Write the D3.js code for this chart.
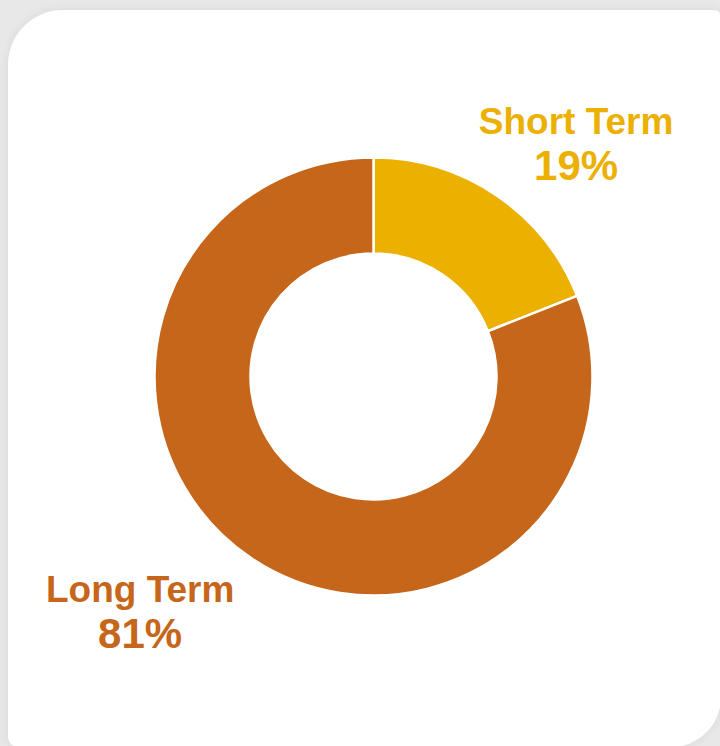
<!DOCTYPE html>
<html>
<head>
<meta charset="utf-8">
<script src="https://cdn.jsdelivr.net/npm/d3@7"></script>
<style>
  html, body { margin: 0; padding: 0; background: #e8e8e8; }
  svg { display: block; }
</style>
</head>
<body>
<div id="chart"></div>
<script>
// data
const categories = ["Short Term", "Long Term"]
const shares = [19, 81]
const colors = ["#ECB000", "#C6661A"]

const width = 720
const height = 746
const cx = 373.5
const cy = 376.5
const outerR = 219
const innerR = 123

const svg = d3.select("#chart").append("svg")
    .attr("width", width)
    .attr("height", height)

const defs = svg.append("defs")
const shadow = defs.append("filter").attr("id", "shadow")
    .attr("x", "-10%").attr("y", "-10%").attr("width", "120%").attr("height", "120%")
shadow.append("feDropShadow")
    .attr("dx", 0).attr("dy", 0)
    .attr("stdDeviation", 4)
    .attr("flood-color", "#000")
    .attr("flood-opacity", 0.08)

svg.append("rect")
    .attr("width", width).attr("height", height)
    .attr("fill", "#e8e8e8")

// card with uneven corners (cropped screenshot)
const card = d3.path()
const L = 8, T = 10, R = 721, B = 747
card.moveTo(L + 55, T)
card.lineTo(R - 8, T)
card.quadraticCurveTo(R, T, R, T + 8)
card.lineTo(R, B - 50)
card.arcTo(R, B, R - 50, B, 50)
card.lineTo(L + 12, B)
card.quadraticCurveTo(L, B, L, B - 12)
card.lineTo(L, T + 55)
card.arcTo(L, T, L + 55, T, 55)
card.closePath()

svg.append("path")
    .attr("d", card.toString())
    .attr("fill", "#fff")
    .attr("filter", "url(#shadow)")

const data = categories.map((c, i) => ({ name: c, value: shares[i], color: colors[i] }))

const pie = d3.pie().value(d => d.value).sort(null)
const arcs = pie(data)

const arc = d3.arc().innerRadius(innerR).outerRadius(outerR)

const g = svg.append("g").attr("transform", `translate(${cx},${cy})`)

g.selectAll("path.slice")
    .data(arcs)
    .join("path")
    .attr("class", "slice")
    .attr("d", arc)
    .attr("fill", d => d.data.color)
    .attr("stroke", "#fff")
    .attr("stroke-width", 2.5)

// labels sit out past the ring, pushed toward the corners
const labelPlace = [
    { angle: 40.8, r: 310 },
    { angle: 225, r: 330 }
]

const labels = g.selectAll("g.label")
    .data(arcs)
    .join("g")
    .attr("class", "label")
    .attr("transform", (d, i) => {
        let a = labelPlace[i].angle * Math.PI / 180
        let r = labelPlace[i].r
        return `translate(${r * Math.sin(a)},${-r * Math.cos(a)})`
    })
    .attr("fill", d => d.data.color)
    .attr("font-family", "'Liberation Sans', Arial, sans-serif")
    .attr("font-weight", "bold")
    .attr("text-anchor", "middle")

labels.append("text")
    .attr("y", -8)
    .attr("font-size", 37)
    .text(d => d.data.name)

labels.append("text")
    .attr("y", 38)
    .attr("font-size", 42)
    .text(d => d.data.value + "%")
</script>
</body>
</html>
